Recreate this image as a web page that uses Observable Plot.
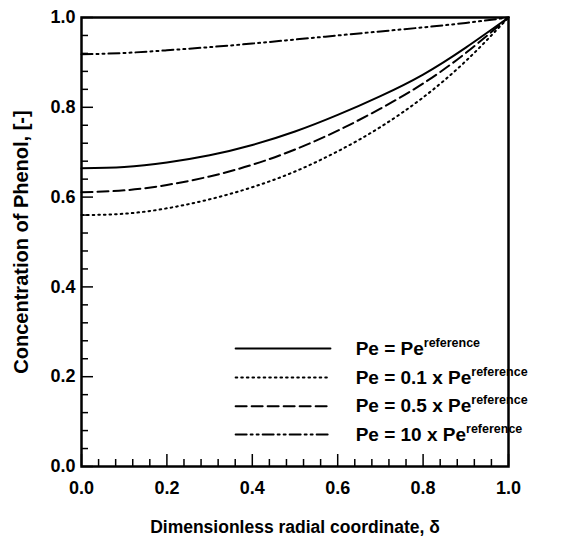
<!DOCTYPE html>
<html>
<head>
<meta charset="utf-8">
<script src="https://cdn.jsdelivr.net/npm/d3@7"></script>
<script src="https://cdn.jsdelivr.net/npm/@observablehq/plot@0.6"></script>
<style>
  html, body { margin: 0; padding: 0; background: #fff; }
  #chart svg { font-family: "Liberation Sans", Arial, Helvetica, sans-serif; font-weight: bold; }
</style>
</head>
<body>
<div id="chart"></div>
<script>
// ---- data ----
const delta = [0.0, 0.1, 0.2, 0.3, 0.4, 0.5, 0.6, 0.7, 0.8, 0.9, 1.0];
const peRef  = [0.664, 0.667, 0.677, 0.693, 0.716, 0.746, 0.783, 0.825, 0.873, 0.933, 1.0];
const pe01   = [0.560, 0.563, 0.575, 0.595, 0.622, 0.657, 0.702, 0.756, 0.822, 0.903, 1.0];
const pe05   = [0.611, 0.615, 0.627, 0.646, 0.672, 0.706, 0.748, 0.797, 0.853, 0.921, 1.0];
const pe10   = [0.918, 0.921, 0.927, 0.934, 0.942, 0.951, 0.960, 0.969, 0.978, 0.988, 1.0];
const seriesLabels = [
  "Pe = Pe^reference",
  "Pe = 0.1 x Pe^reference",
  "Pe = 0.5 x Pe^reference",
  "Pe = 10 x Pe^reference"
];
const xTicks = [0.0, 0.2, 0.4, 0.6, 0.8, 1.0];
const yTicks = [0.0, 0.2, 0.4, 0.6, 0.8, 1.0];
const xLabel = "Dimensionless radial coordinate, \u03B4";
const yLabel = "Concentration of Phenol, [-]";

// ---- layout / style ----
const W = 563, H = 549;
const M = {top: 17, right: 55, bottom: 83, left: 81};
const plotW = W - M.left - M.right, plotH = H - M.top - M.bottom;
const majorLen = 12, minorLen = 7;
const minorTicks = d3.range(0, 26).map(i => i * 0.04).filter(v => !xTicks.some(t => Math.abs(t - v) < 1e-9));
const styles = [
  {dash: null, width: 2},
  {dash: "1.6,4", width: 2},
  {dash: "11,5", width: 2},
  {dash: "11,4,2,4,2,4", width: 2}
];
const seriesValues = [peRef, pe01, pe05, pe10];
// legend placement (data coordinates)
const legend = {x1: 0.361, x2: 0.583, xt: 0.642, rows: [0.263, 0.198, 0.134, 0.071]};

const marks = [];
seriesValues.forEach((vals, i) => {
  marks.push(Plot.line(delta.map((d, j) => ({x: d, y: vals[j]})), {
    x: "x", y: "y", curve: "natural", stroke: "black",
    strokeWidth: styles[i].width, strokeDasharray: styles[i].dash
  }));
  marks.push(Plot.line([{x: legend.x1, y: legend.rows[i]}, {x: legend.x2, y: legend.rows[i]}], {
    x: "x", y: "y", stroke: "black", strokeWidth: styles[i].width, strokeDasharray: styles[i].dash
  }));
});
marks.push(Plot.text(seriesLabels.map((s, i) => ({s, y: legend.rows[i]})), {
  x: () => legend.xt, y: "y", text: "s", textAnchor: "start", fontSize: 19, fontWeight: "bold", fill: "black"
}));

// inward ticks
marks.push(Plot.tickX(xTicks, {x: d => d, stroke: "black", strokeWidth: 1.5, insetTop: plotH - majorLen}));
marks.push(Plot.tickX(minorTicks, {x: d => d, stroke: "black", strokeWidth: 1.5, insetTop: plotH - minorLen}));
marks.push(Plot.tickY(yTicks, {y: d => d, stroke: "black", strokeWidth: 1.5, insetRight: plotW - majorLen}));
marks.push(Plot.tickY(minorTicks, {y: d => d, stroke: "black", strokeWidth: 1.5, insetRight: plotW - minorLen}));

marks.push(Plot.axisX({ticks: xTicks, tickSize: 0, tickPadding: 15, tickFormat: d => d.toFixed(1), fontSize: 18, label: null}));
marks.push(Plot.axisY({ticks: yTicks, tickSize: 0, tickPadding: 6, tickFormat: d => d.toFixed(1), fontSize: 18, label: null}));
marks.push(Plot.text([xLabel], {frameAnchor: "bottom", dy: 61, text: d => d, fontSize: 17.5, fontWeight: "bold", fill: "black", lineAnchor: "middle", textAnchor: "middle"}));
marks.push(Plot.text([yLabel], {frameAnchor: "left", dx: -60, rotate: -90, text: d => d, fontSize: 20, fontWeight: "bold", fill: "black", lineAnchor: "middle", textAnchor: "middle"}));
marks.push(Plot.frame({stroke: "black", strokeWidth: 2.5}));

const chart = Plot.plot({
  width: W, height: H,
  marginTop: M.top, marginRight: M.right, marginBottom: M.bottom, marginLeft: M.left,
  x: {domain: [0, 1]},
  y: {domain: [0, 1]},
  style: {fontFamily: "Liberation Sans, Arial, sans-serif", fontWeight: "bold", color: "black", background: "white"},
  marks
});

// superscripts for the legend labels
chart.querySelectorAll("text").forEach(t => {
  const s = t.textContent;
  if (s.includes("^")) {
    const [base, sup] = s.split("^");
    t.textContent = base;
    const ts = document.createElementNS("http://www.w3.org/2000/svg", "tspan");
    ts.setAttribute("dy", "-8");
    ts.setAttribute("font-size", "12.5");
    ts.textContent = sup;
    t.appendChild(ts);
  }
});
document.getElementById("chart").appendChild(chart);
</script>
</body>
</html>
